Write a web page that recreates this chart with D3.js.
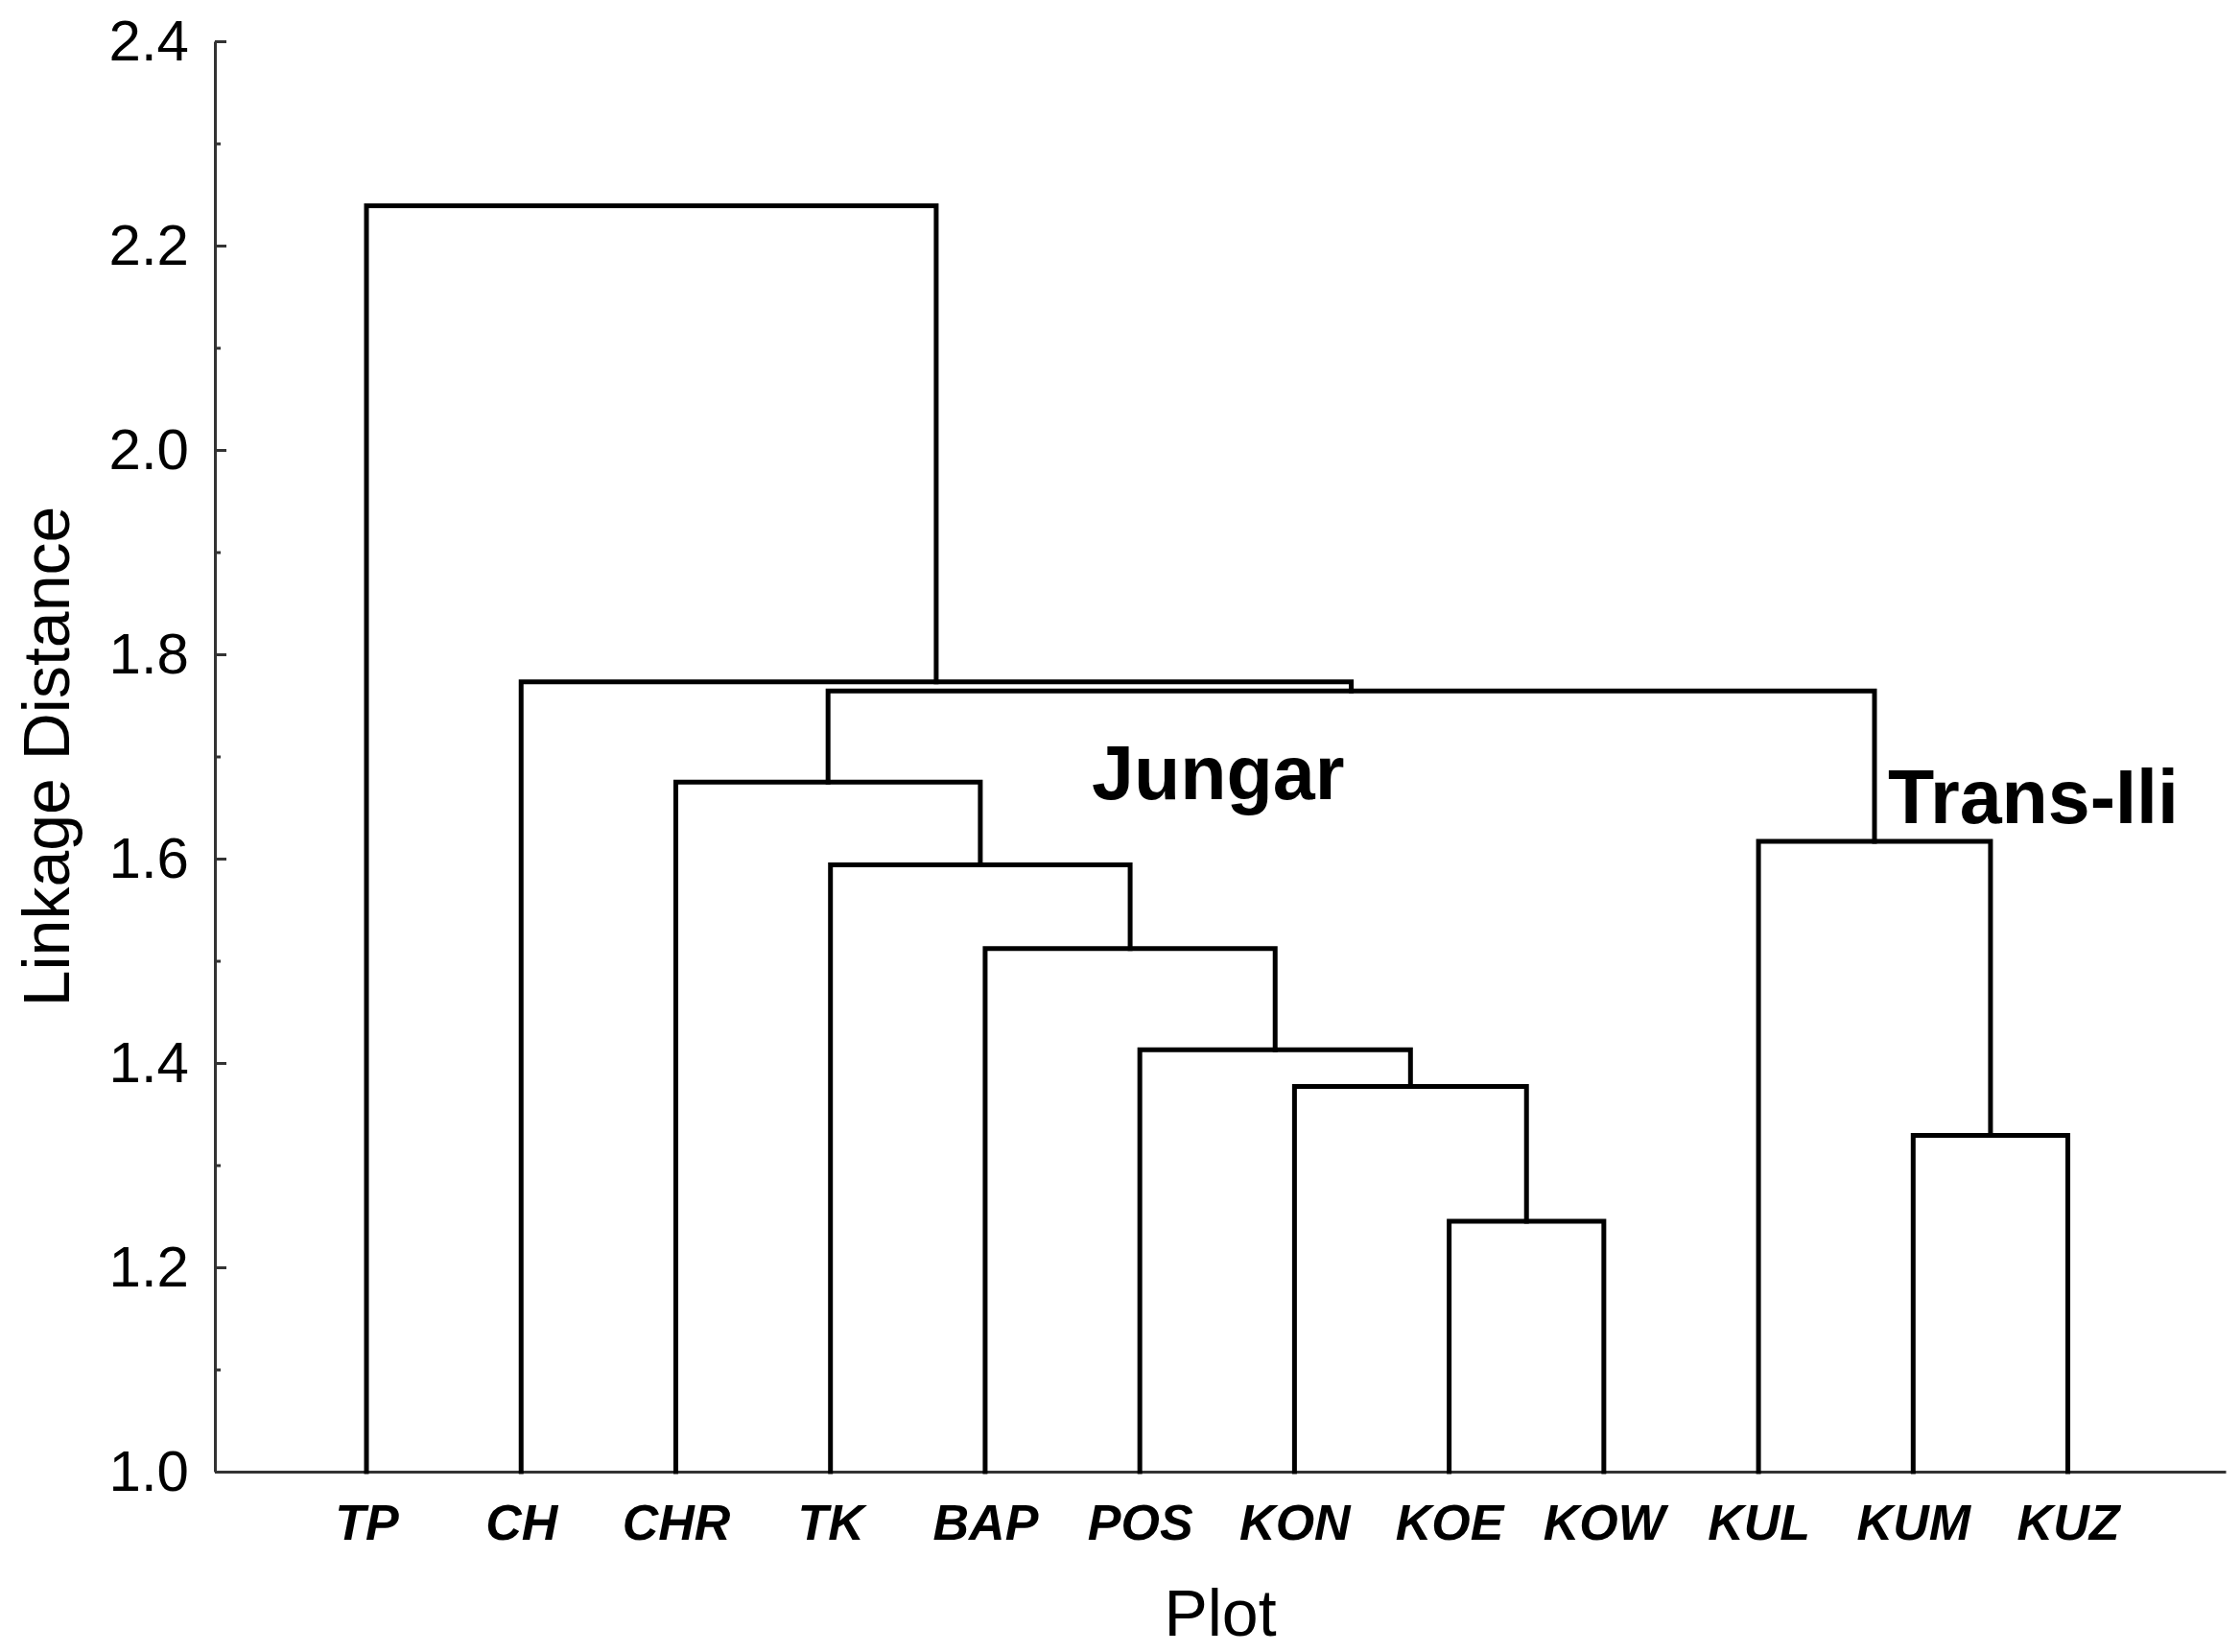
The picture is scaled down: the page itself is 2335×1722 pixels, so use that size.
<!DOCTYPE html>
<html>
<head>
<meta charset="utf-8">
<script src="https://cdn.jsdelivr.net/npm/d3@7"></script>
<style>
  html, body { margin: 0; padding: 0; background: #fff; }
  svg { display: block; }
  text { font-family: "Liberation Sans", Arial, sans-serif; fill: #000; }
</style>
</head>
<body>
<script>
// ---- data ----
const leaves = ["TP", "CH", "CHR", "TK", "BAP", "POS", "KON", "KOE", "KOW", "KUL", "KUM", "KUZ"];
// merges: child A, child B (leaf index 0..11, or 12+k for merge k), linkage distance
const mergeLeft   = [7, 10, 6, 5, 4, 3, 9, 2, 19, 1, 0];
const mergeRight  = [8, 11, 12, 14, 15, 16, 13, 17, 18, 20, 21];
const mergeHeight = [1.245, 1.329, 1.377, 1.413, 1.512, 1.594, 1.617, 1.675, 1.764, 1.773, 2.239];
const majorTicks = [1.0, 1.2, 1.4, 1.6, 1.8, 2.0, 2.2, 2.4];
const minorTicks = [1.1, 1.3, 1.5, 1.7, 1.9, 2.1, 2.3];
const groupLabels = ["Jungar", "Trans-Ili"];
const xTitle = "Plot";
const yTitle = "Linkage Distance";

// ---- layout ----
const W = 2335, H = 1722;
const svg = d3.select("body").append("svg").attr("width", W).attr("height", H);

const x = d3.scaleLinear().domain([0.02, leaves.length + 1.02]).range([224, 2320]);
const y = d3.scaleLinear().domain([1.0, 2.4]).range([1534, 43]);

// y axis (major ticks inward with labels)
const yAxis = svg.append("g").attr("transform", `translate(${x.range()[0]},0)`)
  .call(d3.axisLeft(y).tickValues(majorTicks).tickFormat(d3.format(".1f"))
    .tickSizeInner(-12).tickSizeOuter(0).tickPadding(27));
yAxis.select(".domain").attr("stroke", "#333").attr("stroke-width", 3);
yAxis.selectAll(".tick line").attr("stroke", "#333").attr("stroke-width", 3);
yAxis.selectAll(".tick text").attr("font-size", 60).attr("fill", "#000")
  .style("font-family", "'Liberation Sans', Arial, sans-serif");

// minor ticks
const yMinor = svg.append("g").attr("transform", `translate(${x.range()[0]},0)`)
  .call(d3.axisLeft(y).tickValues(minorTicks).tickFormat("").tickSizeInner(-6).tickSizeOuter(0));
yMinor.select(".domain").remove();
yMinor.selectAll(".tick line").attr("stroke", "#333").attr("stroke-width", 3);

// x axis with leaf labels
const xAxis = svg.append("g").attr("transform", `translate(0,${y(1.0)})`)
  .call(d3.axisBottom(x).tickValues(d3.range(1, leaves.length + 1))
    .tickFormat(i => leaves[i - 1]).tickSize(0).tickPadding(34));
xAxis.select(".domain").attr("stroke", "#333").attr("stroke-width", 3);
xAxis.selectAll(".tick text").attr("font-size", 52).attr("font-weight", "bold")
  .attr("font-style", "italic").attr("fill", "#000")
  .style("font-family", "'Liberation Sans', Arial, sans-serif");

// dendrogram links
const nodeX = leaves.map((_, i) => x(i + 1));
const nodeY = leaves.map(() => y(1.0));
const links = svg.append("g").attr("fill", "none").attr("stroke", "#000")
  .attr("stroke-width", 5).attr("stroke-linejoin", "miter").attr("stroke-linecap", "square");
mergeHeight.forEach((h, k) => {
  const a = mergeLeft[k], b = mergeRight[k];
  const ya = y(h);
  const xa = nodeX[a], xb = nodeX[b];
  const p = d3.path();
  p.moveTo(xa, nodeY[a]);
  p.lineTo(xa, ya);
  p.lineTo(xb, ya);
  p.lineTo(xb, nodeY[b]);
  links.append("path").attr("d", p.toString());
  nodeX.push((xa + xb) / 2);
  nodeY.push(ya);
});

// group labels
svg.append("text").attr("x", 1138).attr("y", 833)
  .attr("font-size", 79).attr("font-weight", "bold").text(groupLabels[0]);
svg.append("text").attr("x", 1968).attr("y", 858)
  .attr("font-size", 79).attr("font-weight", "bold").text(groupLabels[1]);

// axis titles
svg.append("text").attr("x", (x.range()[0] + x.range()[1]) / 2).attr("y", 1705)
  .attr("text-anchor", "middle").attr("font-size", 68).text(xTitle);
svg.append("text")
  .attr("transform", `translate(72,${(y.range()[0] + y.range()[1]) / 2}) rotate(-90)`)
  .attr("text-anchor", "middle").attr("font-size", 68).text(yTitle);
</script>
</body>
</html>
